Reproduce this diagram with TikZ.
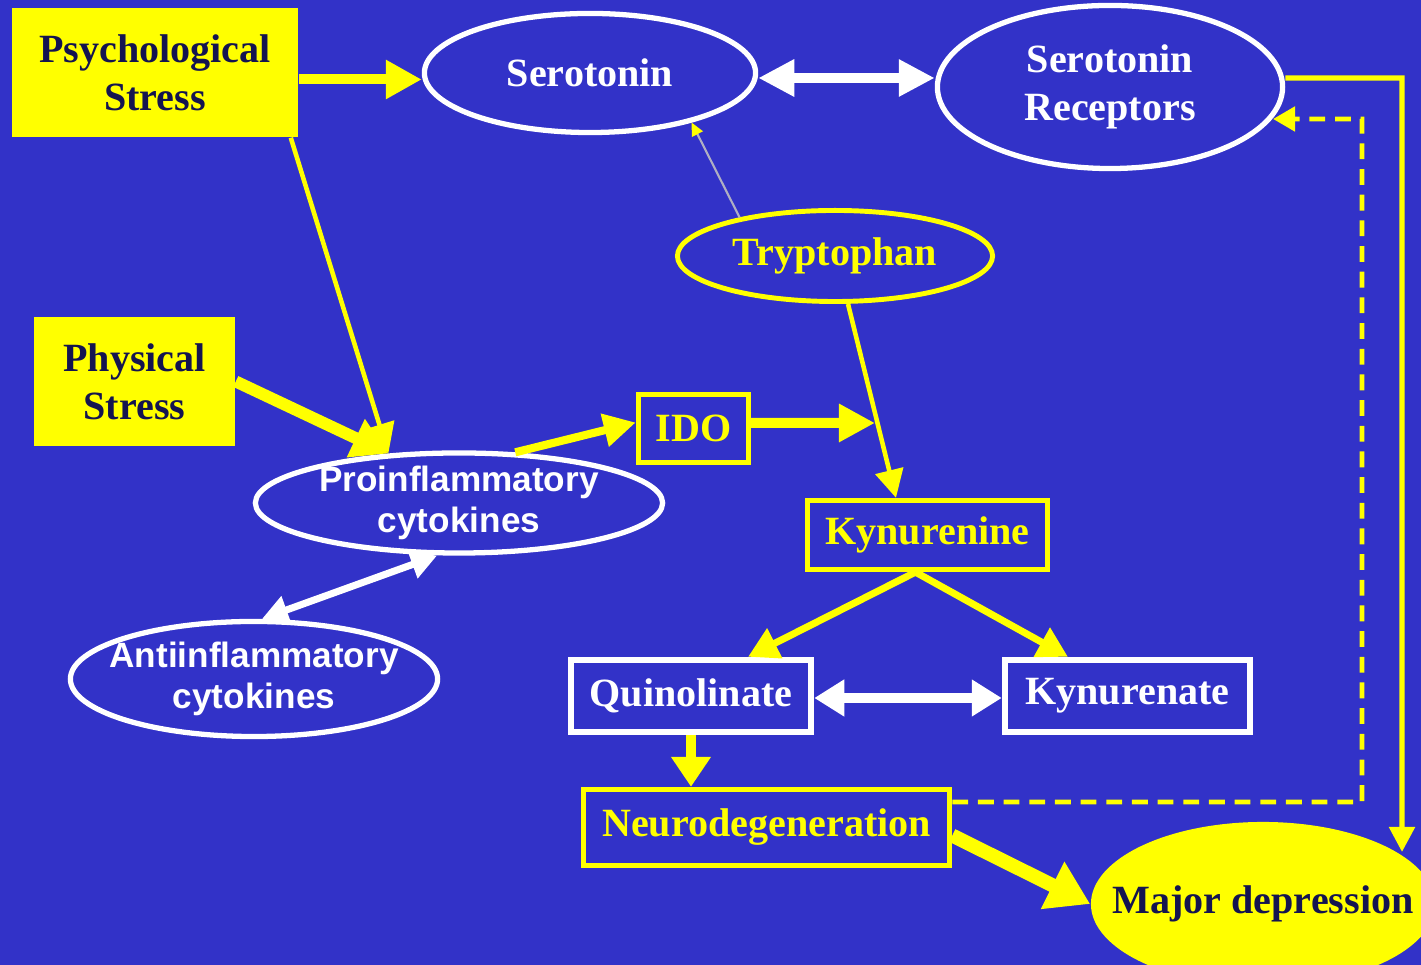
\documentclass[tikz,border=0pt]{standalone}
\usepackage{fontspec}
\setmainfont{Liberation Serif}
\setsansfont{Liberation Sans}
\usetikzlibrary{arrows.meta,shapes.geometric,calc}
\definecolor{bgblue}{RGB}{50,50,200}
\definecolor{ylw}{RGB}{255,255,0}
\definecolor{navy}{RGB}{20,20,80}
\definecolor{thingray}{RGB}{175,175,195}
\tikzset{
  serif/.style={font=\fontsize{11.4}{13.6}\selectfont\bfseries, align=center},
  sans/.style={font=\sffamily\fontsize{10}{11.8}\selectfont\bfseries, align=center},
  yfill/.style={rectangle, fill=ylw, text=navy, serif, inner sep=0pt},
  wellipse/.style={ellipse, draw=white, line width=1.5pt, text=white, inner sep=0pt},
  yellipse/.style={ellipse, draw=ylw, line width=1.4pt, text=ylw, serif, inner sep=0pt},
  ybox/.style={rectangle, draw=ylw, line width=1.5pt, text=ylw, serif, inner sep=0pt},
  wbox/.style={rectangle, draw=white, line width=1.8pt, text=white, serif, inner sep=0pt},
  yarrow/.style={draw=ylw, line width=#1},
  warrow/.style={draw=white, line width=#1},
  ydash/.style={draw=ylw, line width=1.4pt, dash pattern=on 4.5pt off 2.8pt}
}
\begin{document}
\begin{tikzpicture}[x=0.01cm, y=-0.01cm]
\useasboundingbox (0,0) rectangle (1421,965);
\clip (0,0) rectangle (1421,965);
\fill[bgblue] (0,0) rectangle (1421,965);

% nodes
\node[yfill, minimum width=2.86cm, minimum height=1.29cm] (psych) at (155,72.5) {Psychological\\Stress};
\node[yfill, minimum width=2.01cm, minimum height=1.29cm] (phys) at (134.5,381.5) {Physical\\Stress};
\node[wellipse, serif, minimum width=3.31cm, minimum height=1.19cm] (sero) at (590,73) {Serotonin};
\node[wellipse, serif, minimum width=3.45cm, minimum height=1.63cm, inner xsep=-0.3cm] (rec) at (1110,87) {Serotonin\\Receptors};
\node[yellipse, minimum width=3.15cm, minimum height=0.91cm, inner xsep=-0.3cm] (tryp) at (835,256) {Tryptophan};
\node[wellipse, sans, minimum width=4.07cm, minimum height=1.0cm, inner xsep=-0.4cm, inner ysep=-0.1cm] (proinf) at (459,503) {Proinflammatory\\cytokines};
\node[wellipse, sans, minimum width=3.67cm, minimum height=1.15cm, inner xsep=-0.4cm, inner ysep=-0.1cm] (anti) at (254,679) {Antiinflammatory\\cytokines};
\node[ybox, minimum width=1.10cm, minimum height=0.68cm] (ido) at (693.5,428.5) {IDO};
\node[ybox, minimum width=2.40cm, minimum height=0.69cm] (kyn) at (927.5,535) {Kynurenine};
\node[wbox, minimum width=2.40cm, minimum height=0.72cm] (quin) at (691,696) {Quinolinate};
\node[wbox, minimum width=2.45cm, minimum height=0.72cm] (kynate) at (1127.5,696) {Kynurenate};
\node[ybox, minimum width=3.66cm, minimum height=0.76cm] (neuro) at (766.5,827.5) {Neurodegeneration};
\node[ellipse, fill=ylw, text=navy, serif, inner xsep=-0.5cm, inner ysep=0pt, minimum width=3.44cm, minimum height=1.64cm] (majdep) at (1263,904) {Major depression};

% free ends
\coordinate (rturn) at (1402,78);
\coordinate (mdtip) at (1402,852);
\coordinate (dbot) at (1362,802);
\coordinate (dtop) at (1362,119);
\coordinate (dtip) at (1273,119);
\coordinate (idotip) at (875,423);

% connectors
\draw[yarrow=2.85pt, -{Triangle[length=0.36cm,width=0.37cm]}] ([yshift=-0.07cm]psych.east) -- ([yshift=-0.07cm]psych.east -| sero.west);
\draw[warrow=2.85pt, {Triangle[length=0.36cm,width=0.35cm]}-{Triangle[length=0.36cm,width=0.35cm]}] ([yshift=-0.05cm]sero.east) -- ([yshift=-0.05cm]sero.east -| rec.west);
\draw[yarrow=1.5pt, -{Triangle[length=0.25cm,width=0.25cm]}] ([yshift=0.09cm]rec.east) -- (rturn) -- (mdtip);
\draw[ydash, -{Triangle[length=0.22cm,width=0.24cm]}] ([yshift=0.255cm]neuro.east) -- (dbot) -- (dtop) -- (dtip);
\draw[yarrow=1.3pt, -{Triangle[length=0.3cm,width=0.3cm]}] ([xshift=-0.08cm]psych.south east) -- (proinf.145);
\draw[yarrow=3.4pt, -{Triangle[length=0.36cm,width=0.4cm]}] (phys.east) -- (proinf.145);
\draw[yarrow=2.3pt, -{Triangle[length=0.32cm,width=0.32cm]}] (proinf.42) -- ([yshift=0.06cm]ido.west);
\draw[yarrow=2.85pt, -{Triangle[length=0.36cm,width=0.36cm]}] ([yshift=0.055cm]ido.east) -- (idotip);
\draw[yarrow=1.3pt, -{Triangle[length=0.28cm,width=0.28cm]}] ([xshift=0.13cm]tryp.south) -- ([xshift=-0.315cm]kyn.north);
\draw[thingray, line width=0.6pt, -{Triangle[length=0.13cm,width=0.12cm,color=ylw]}] (tryp.158.6) -- (sero.-26.6);
\draw[yarrow=2pt, -{Triangle[length=0.3cm,width=0.32cm]}] ([xshift=-0.12cm]kyn.south) -- ([xshift=0.57cm]quin.north);
\draw[yarrow=2pt, -{Triangle[length=0.3cm,width=0.32cm]}] ([xshift=-0.12cm]kyn.south) -- ([xshift=-0.595cm]kynate.north);
\draw[warrow=2.85pt, {Triangle[length=0.3cm,width=0.35cm]}-{Triangle[length=0.3cm,width=0.35cm]}] ([yshift=-0.02cm]quin.east) -- ([yshift=-0.02cm]kynate.west);
\draw[yarrow=2.85pt, -{Triangle[length=0.3cm,width=0.38cm]}] (quin.south) -- (quin.south |- neuro.north);
\draw[yarrow=4pt, -{Triangle[length=0.42cm,width=0.5cm]}] ([yshift=-0.08cm]neuro.east) -- (majdep.west);
\draw[warrow=2pt, {Triangle[length=0.26cm,width=0.28cm]}-{Triangle[length=0.26cm,width=0.28cm]}] ([xshift=0.08cm]anti.north) -- ([xshift=-0.22cm]proinf.south);
\end{tikzpicture}
\end{document}
